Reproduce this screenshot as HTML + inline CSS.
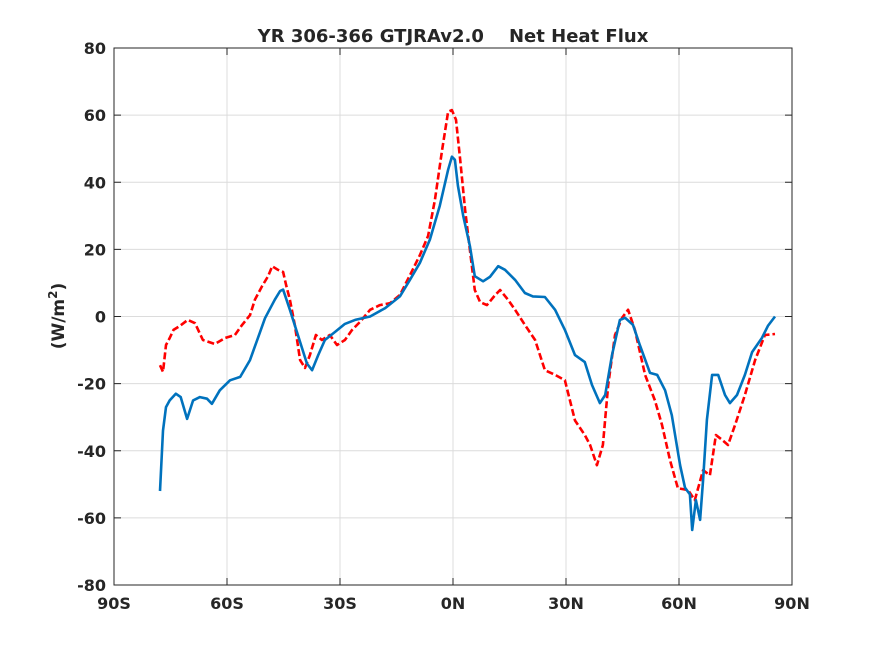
<!DOCTYPE html>
<html><head><meta charset="utf-8"><style>
body{margin:0;background:#fff;}
svg text{font-family:"DejaVu Sans","Liberation Sans",sans-serif;font-weight:bold;fill:#262626;}
</style></head><body>
<svg id="c" width="875" height="656" viewBox="0 0 875 656">
<rect width="875" height="656" fill="#fff"/>
<g id="grid"></g>
<rect x="114" y="48" width="678" height="537" fill="none" stroke="#262626" stroke-width="1"/>
<g id="ticks"></g>
<g id="series"></g>
<text x="453" y="42" text-anchor="middle" font-size="18" xml:space="preserve">YR 306-366 GTJRAv2.0    Net Heat Flux</text>
<text transform="translate(64,316) rotate(-90)" text-anchor="middle" font-size="17">(W/m<tspan dy="-7" font-size="12">2</tspan><tspan dy="7">)</tspan></text>
</svg>
<script>
const xTicks=[-90,-60,-30,0,30,60,90];
const xTickLabels=["90S","60S","30S","0N","30N","60N","90N"];
const yTicks=[-80,-60,-40,-20,0,20,40,60,80];
const blueLat=[-77.8,-77,-76.2,-75.2,-73.6,-72.3,-70.6,-69,-67.2,-65.3,-64,-61.9,-59.2,-56.5,-53.9,-51.2,-49.9,-47.3,-45.9,-45.1,-43.3,-40.6,-38.8,-37.4,-35.8,-34,-31.3,-28.7,-26,-22,-18,-14.1,-11.4,-8.8,-6.1,-3.5,-1.3,-0.3,0.5,1.3,2.7,4.5,5.8,8,9.8,12,13.8,16.5,19.1,21.2,24.4,27.1,29.7,32.4,35,36.9,39,40.4,42.2,44.3,45.7,47.8,49.6,52.3,54.2,56.3,58.1,60.3,61.6,62.9,63.5,64.5,65.6,66.4,67.4,68.8,70.4,72.2,73.5,75.4,77.5,79.4,82,83.6,85.5];
const blueVal=[-52,-34,-27,-25,-23,-24,-30.5,-25,-24,-24.5,-26,-22,-19,-18,-13,-4.6,-0.5,5,7.6,8,2,-7.6,-14,-16,-11.5,-7,-4.6,-2.2,-1,0,2.5,6,11,16,23,33,43.7,47.6,46.7,39,30,21,12,10.5,11.8,15,13.9,10.9,7,6,5.8,2,-4,-11.5,-13.6,-20.4,-25.8,-23.4,-11.5,-1,-0.4,-2.5,-8.5,-16.8,-17.4,-22,-29.4,-44.3,-51,-53,-63.6,-54.7,-60.6,-48.7,-30.8,-17.4,-17.4,-23.4,-25.8,-23.4,-17.4,-10.6,-6.4,-2.8,0];
const redLat=[-77.8,-77,-76.2,-75.2,-74.2,-72.5,-70.4,-68.5,-66.4,-63.2,-60.5,-57.9,-56,-53.9,-52.6,-50.7,-49.1,-48,-46.5,-45.1,-44.3,-43.3,-42,-40.6,-39.3,-38,-36.4,-34.8,-32.7,-30.8,-28.7,-26.8,-24.7,-22,-19.4,-16.7,-14.1,-11.4,-8.8,-6.6,-4.8,-2.9,-1.3,-0.3,0.8,1.9,3.2,4.5,5.8,7.2,9,11.2,12.5,14.6,16.5,19.1,21.8,24.4,27.1,29.7,32.4,35,36.4,38.2,39.8,41.2,43,44.9,46.5,48.3,51,53.6,55.5,57.6,59.7,62.4,64.2,66.4,68.2,69.8,71.5,73,74.9,77.5,80.2,82.8,85.5];
const redVal=[-14.5,-16.5,-8.5,-6.4,-4,-2.8,-1,-2,-7,-8.2,-6.4,-5.5,-2.5,0.4,5,9,12,15,13.9,13.3,9.4,5,-2.5,-13,-15.3,-11.5,-5.5,-7,-5.5,-8.5,-7,-4,-1.6,2,3.4,4,6.4,12.4,18.3,24,34.7,49.6,61,61.5,58.6,46.7,31.8,19.8,7.9,4.3,3.4,6.4,7.9,5,2,-2.5,-7,-16,-17.4,-19,-31,-35.3,-38.3,-44.3,-38.3,-20.4,-5.5,-0.4,2,-4,-17.4,-25,-32.3,-42.8,-51.2,-51.7,-54.7,-45.8,-47.3,-35.3,-36.8,-38.3,-32.3,-23.4,-13,-5.5,-5.2];
const X0=114,X1=792,Y0=585,Y1=48;
const sx=v=>X0+(v+90)/180*(X1-X0);
const sy=v=>Y0-(v+80)/160*(Y0-Y1);
const NS="http://www.w3.org/2000/svg";
function mk(t,a,p){const e=document.createElementNS(NS,t);for(const k in a)e.setAttribute(k,a[k]);p.appendChild(e);return e;}
const grid=document.getElementById('grid'),ticks=document.getElementById('ticks'),ser=document.getElementById('series');
xTicks.forEach((t,i)=>{const x=sx(t);
 const g=mk('line',{x1:x,x2:x,y1:Y1,y2:Y0,stroke:'#dcdcdc','stroke-width':1},grid);
 
 
 mk('line',{x1:x,x2:x,y1:Y0,y2:Y0-7,stroke:'#262626'},ticks);
 mk('line',{x1:x,x2:x,y1:Y1,y2:Y1+7,stroke:'#262626'},ticks);
 const l=mk('text',{x:x,y:609,'text-anchor':'middle','font-size':16},ticks);l.textContent=xTickLabels[i];
 
 
});
yTicks.forEach(t=>{const y=sy(t);
 const g=mk('line',{x1:X0,x2:X1,y1:y,y2:y,stroke:'#dcdcdc','stroke-width':1},grid);
 
 
 mk('line',{x1:X0,x2:X0+7,y1:y,y2:y,stroke:'#262626'},ticks);
 mk('line',{x1:X1,x2:X1-7,y1:y,y2:y,stroke:'#262626'},ticks);
 const l=mk('text',{x:X0-8,y:y+6,'text-anchor':'end','font-size':16},ticks);l.textContent=String(t);
 
 
});
function pts(la,va){return la.map((v,i)=>sx(v).toFixed(1)+','+sy(va[i]).toFixed(1)).join(' ');}
const r=mk('polyline',{points:pts(redLat,redVal),fill:'none',stroke:'#ff0000','stroke-width':2.6,'stroke-dasharray':'7,3','stroke-linejoin':'round'},ser);


const b=mk('polyline',{points:pts(blueLat,blueVal),fill:'none',stroke:'#0072BD','stroke-width':2.6,'stroke-linejoin':'round'},ser);


</script>
</body></html>
